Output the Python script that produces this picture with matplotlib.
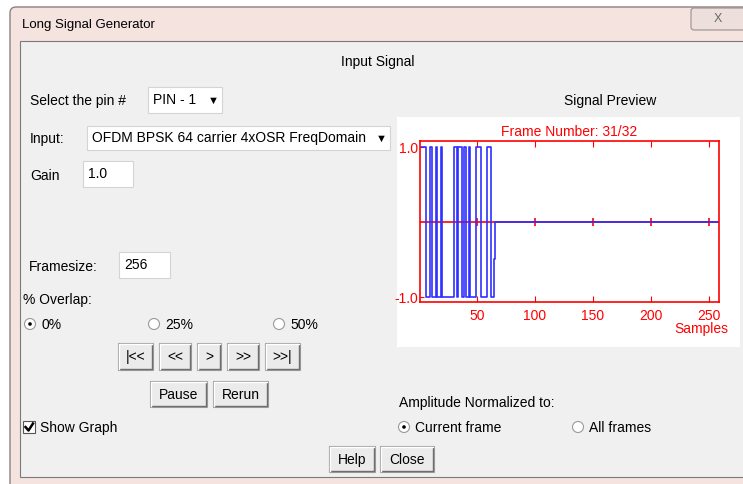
import matplotlib.pyplot as plt
from matplotlib.patches import Rectangle, Circle, FancyBboxPatch

plt.rcParams["font.family"] = ["Liberation Sans", "DejaVu Sans"]


# ============================
# Data
# ============================

window_title = "Long Signal Generator"
frame_title = "Frame Number: 31/32"

# sample index (step plot, post) and amplitude of the current frame
sample_index = list(range(1, 67)) + [259]
amplitude = [
    1, 1, 1, 1, 1,
    -1, -1, -1, -1,
    1,
    -1, -1, -1, -1,
    1,
    -1, -1, -1,
    1,
    -1, -1, -1, -1, -1, -1, -1, -1, -1, -1,
    1, 1, 1,
    -1,
    1, 1, 1,
    -1, -1,
    1, 1,
    -1, -1,
    1,
    -1, -1, -1, -1, -1,
    1, 1, 1, 1, 1,
    -1, -1, -1, -1, -1,
    1, 1, 1,
    -1, -1, -1,
    -0.5,
    0.0, 0.0,
]

x_ticks = [50, 100, 150, 200, 250]
y_ticks = [-1.0, 1.0]
y_tick_labels = ["-1.0", "1.0"]

overlap_options = ["0%", "25%", "50%"]
nav_buttons = ["|<<", "<<", ">", ">>", ">>|"]
normalize_options = ["Current frame", "All frames"]


# ============================
# Helpers (pixel coordinates)
# ============================

fig = plt.figure(figsize=(7.43, 4.85), dpi=100)
bg = fig.add_axes([0, 0, 1, 1])
bg.set_xlim(0, 743)
bg.set_ylim(485, 0)
bg.axis("off")


def label(x, y, txt, size=10, ha="left", color="black"):
    bg.text(x, y, txt, fontsize=size, ha=ha, va="center", color=color)


def text_box(x0, y0, x1, y1, txt):
    bg.add_patch(Rectangle((x0, y0), x1 - x0, y1 - y0,
                           facecolor="white", edgecolor="#d4d4d4", lw=0.8))
    label(x0 + 5, (y0 + y1) / 2 - 1, txt)


def button(x0, y0, x1, y1, txt):
    bg.add_patch(Rectangle((x0, y0), x1 - x0, y1 - y0,
                           facecolor="#ebebeb", edgecolor="#a0a0a0", lw=0.8))
    bg.plot([x0 + 1, x1 - 1, x1 - 1], [y1 - 1, y1 - 1, y0 + 1],
            color="#6e6e6e", lw=1.0)
    bg.plot([x0 + 1, x0 + 1, x1 - 1], [y1 - 1, y0 + 1, y0 + 1],
            color="white", lw=1.0)
    label((x0 + x1) / 2, (y0 + y1) / 2, txt, ha="center")


def radio(cx, cy, txt, selected):
    bg.add_patch(Circle((cx, cy), 5.5, facecolor="white",
                        edgecolor="#9a9a9a", lw=0.8))
    if selected:
        bg.add_patch(Circle((cx, cy), 1.8, facecolor="black"))
    label(cx + 11, cy, txt)


# ============================
# Window frame
# ============================

bg.add_patch(FancyBboxPatch((10, 8), 760, 490,
                            boxstyle="round,pad=0,rounding_size=6",
                            facecolor="#f5e3df", edgecolor="#8c8280", lw=1))
bg.add_patch(Rectangle((20, 42), 730, 436,
                       facecolor="#f0f0f0", edgecolor="#7a7a7a", lw=0.8))
label(22, 25, window_title, size=9.5)

bg.add_patch(FancyBboxPatch((691, 9), 60, 22,
                            boxstyle="round,pad=0,rounding_size=3",
                            facecolor="#eddfdc", edgecolor="#9c908e", lw=0.8))
label(718, 19, "X", size=9, ha="center", color="#6a6a6a")


# ============================
# Left controls
# ============================

label(378, 62, "Input Signal", ha="center")

label(30, 101, "Select the pin #")
text_box(148, 88, 222, 114, "PIN - 1")
label(213, 101, "▼", size=8, ha="center")

label(30, 139, "Input:")
text_box(87, 127, 390, 151, "OFDM BPSK 64 carrier 4xOSR FreqDomain")
label(381, 139, "▼", size=8, ha="center")

label(30, 176, "Gain")
text_box(83, 162, 133, 188, "1.0")

label(29, 267, "Framesize:")
text_box(119, 253, 170, 279, "256")

label(23, 300, "% Overlap:")
for cx, opt in zip([30, 154, 279], overlap_options):
    radio(cx, 325, opt, opt == "0%")

for (x0, x1), txt in zip([(118, 153), (159, 191), (197, 221), (227, 259), (265, 300)],
                         nav_buttons):
    button(x0, 344, x1, 371, txt)

button(150, 382, 207, 408, "Pause")
button(213, 382, 268, 408, "Rerun")

bg.add_patch(Rectangle((23, 422), 12, 12, facecolor="white",
                       edgecolor="#555555", lw=0.8))
bg.plot([25.5, 28.5, 33], [428, 431.5, 424.5], color="black", lw=1.8)
label(40, 428, "Show Graph")

button(329, 447, 375, 473, "Help")
button(380, 447, 434, 473, "Close")


# ============================
# Right side: signal preview
# ============================

label(564, 101, "Signal Preview")
bg.add_patch(Rectangle((397, 118), 343, 230, facecolor="white", edgecolor="none"))

ax = fig.add_axes([420 / 743, (485 - 303) / 485, 299 / 743, 161 / 485])
ax.set_facecolor("white")

ax.axhline(0, color="red", lw=1.2, zorder=1)
ax.plot(x_ticks, [0] * len(x_ticks), "|", color="red", ms=6, mew=1.2, zorder=1)
ax.plot(sample_index, amplitude, drawstyle="steps-post",
        color="#3030ff", lw=1.2, zorder=2)

ax.set_xlim(1, 259)
ax.set_ylim(-1.07, 1.08)
ax.set_xticks(x_ticks)
ax.set_yticks(y_ticks)
ax.set_yticklabels(y_tick_labels)
ax.tick_params(axis="x", direction="in", length=4, pad=4,
               colors="red", labelsize=10, top=True)
ax.tick_params(axis="y", direction="in", length=3, pad=1,
               colors="red", labelsize=10)
for sp in ax.spines.values():
    sp.set_color("red")
    sp.set_linewidth(1.2)
ax.set_title(frame_title, color="red", fontsize=10, pad=4)

label(701, 329, "Samples", ha="center", color="red")

label(399, 403, "Amplitude Normalized to:")
for cx, opt in zip([404, 578], normalize_options):
    radio(cx, 428, opt, opt == "Current frame")

plt.savefig("out.png", dpi=100)
plt.close()
